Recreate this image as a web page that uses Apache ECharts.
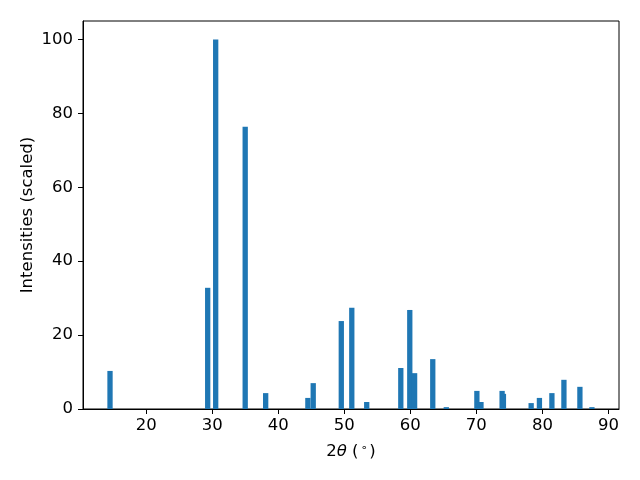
<!DOCTYPE html>
<html>
<head>
<meta charset="utf-8">
<script src="https://cdn.jsdelivr.net/npm/echarts@6/dist/echarts.min.js"></script>
<style>html,body{margin:0;padding:0;background:#fff}#c{width:640px;height:480px}</style>
</head>
<body>
<div id="c"></div>
<script>
const twoTheta = [14.53, 29.32, 30.53, 35.0, 38.1, 44.49, 45.3, 49.55, 51.14, 53.4, 58.56, 59.92, 60.65, 63.4, 65.45, 70.08, 70.7, 73.9, 74.1, 78.3, 79.55, 81.44, 83.26, 85.68, 87.5];
const intensities = [10.3, 32.8, 100, 76.4, 4.3, 3.0, 7.0, 23.8, 27.4, 1.9, 11.1, 26.8, 9.7, 13.5, 0.5, 4.9, 1.9, 4.9, 4.1, 1.6, 3.0, 4.3, 7.9, 6.0, 0.5];
const xTicks = [20, 30, 40, 50, 60, 70, 80, 90];
const yTicks = [0, 20, 40, 60, 80, 100];

const font = 'DejaVu Sans';
const fs = 16.5;
const chart = echarts.init(document.getElementById('c'), null, {renderer: 'canvas'});
chart.setOption({
  animation: false,
  backgroundColor: '#fff',
  grid: {left: 83, right: 21, top: 21, bottom: 71, show: true, borderColor: '#000', borderWidth: 1, containLabel: false},
  xAxis: {
    type: 'value', min: 10.44, max: 91.6,
    axisLine: {show: true, onZero: false, lineStyle: {color: '#000', width: 1}},
    splitLine: {show: false},
    axisTick: {show: true, inside: false, length: 5, customValues: xTicks, lineStyle: {color: '#000'}},
    axisLabel: {customValues: xTicks, color: '#000', fontFamily: font, fontSize: fs, margin: 8},
    name: '2{i|θ} ({s|∘})',
    nameLocation: 'middle', nameGap: 34, nameMoveOverlap: false,
    nameTextStyle: {color: '#000', fontFamily: font, fontSize: fs,
      rich: {i: {fontStyle: 'italic', fontFamily: font, fontSize: fs, color: '#000'},
             s: {fontFamily: font, fontSize: 11, color: '#000', verticalAlign: 'top', padding: [0,2,7,2]}}}
  },
  yAxis: {
    type: 'value', min: 0, max: 105,
    axisLine: {show: true, lineStyle: {color: '#000', width: 1}},
    splitLine: {show: false},
    axisTick: {show: true, inside: false, length: 5, customValues: yTicks, lineStyle: {color: '#000'}},
    axisLabel: {customValues: yTicks, color: '#000', fontFamily: font, fontSize: fs, margin: 10},
    name: 'Intensities (scaled)',
    nameLocation: 'middle', nameGap: 47, nameMoveOverlap: false,
    nameTextStyle: {color: '#000', fontFamily: font, fontSize: fs}
  },
  series: [{
    type: 'bar',
    data: twoTheta.map((x, i) => [x, intensities[i]]),
    barWidth: 5.3,
    itemStyle: {color: '#1f77b4'}
  }]
});
</script>
</body>
</html>
